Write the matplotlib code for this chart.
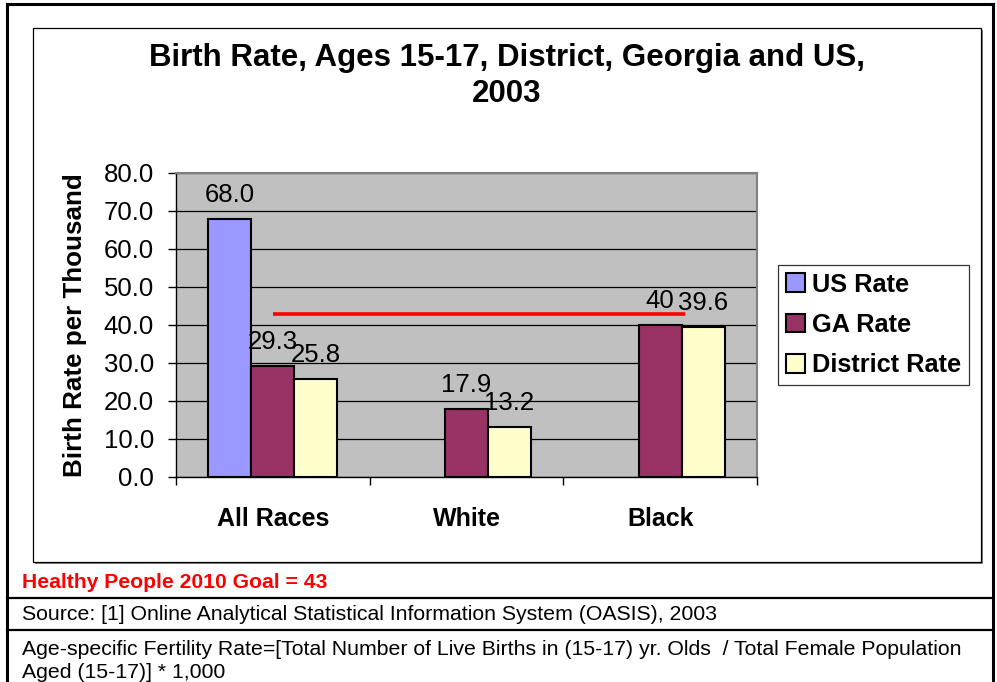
import matplotlib
matplotlib.use("Agg")
import matplotlib.pyplot as plt
import numpy as np
from matplotlib.patches import Rectangle, Patch
from matplotlib.lines import Line2D

plt.rcParams['font.family'] = ['Liberation Sans', 'DejaVu Sans']

# Birth rates per 1,000 females aged 15-17
categories = ['All Races', 'White', 'Black']
us_rate = [68.0, np.nan, np.nan]
ga_rate = [29.3, 17.9, 40.0]
district_rate = [25.8, 13.2, 39.6]
series_names = ['US Rate', 'GA Rate', 'District Rate']
goal = 43

W, H = 997, 682
fig = plt.figure(figsize=(W / 100, H / 100), dpi=100)


def fx(x):
    return x / W


def fy(y):
    return 1 - y / H


# outer frame and table lines
for xs, ys, lw in [((7, 7), (4, 682), 2.2), ((7, 993), (4, 4), 2.2),
                   ((993, 993), (4, 682), 2.2), ((7, 993), (598, 598), 1.6),
                   ((7, 993), (630, 630), 1.6)]:
    fig.add_artist(Line2D([fx(x) for x in xs], [fy(y) for y in ys],
                          color='black', lw=lw))

# chart area box with a small shadow
fig.add_artist(Rectangle((fx(35), fy(564)), fx(948), 534 / H,
                         facecolor='#808080', edgecolor='none', zorder=-2))
fig.add_artist(Rectangle((fx(33), fy(562)), fx(948), 534 / H,
                         facecolor='white', edgecolor='black', lw=0.9, zorder=-1))

fig.text(fx(507), fy(76), 'Birth Rate, Ages 15-17, District, Georgia and US,\n2003',
         ha='center', va='center', fontsize=22.5, fontweight='bold', linespacing=1.26)

ax = fig.add_axes([fx(176), fy(477), (757 - 176) / W, (477 - 173) / H])
ax.set_zorder(2)
ax.set_facecolor('#C0C0C0')

x = np.arange(len(categories))
bw = 1 / 4.5
colors = ['#9999FF', '#993366', '#FFFFCC']
label_fmt = {(1, 2): '{:.0f}'}
for i, (vals, c) in enumerate(zip([us_rate, ga_rate, district_rate], colors)):
    pos = x + (i - 1) * bw
    ax.bar(pos, vals, width=bw, color=c, edgecolor='black', lw=1.5, zorder=3)
    for j, (p, v) in enumerate(zip(pos, vals)):
        if np.isnan(v):
            continue
        txt = label_fmt.get((i, j), '{:.1f}').format(v)
        ax.annotate(txt, (p, v), xytext=(0, 17), textcoords='offset points',
                    ha='center', va='center', fontsize=18.5, zorder=5)

# Healthy People 2010 goal line
ax.plot([0, 2.13], [goal, goal], color='#FF0000', lw=2.6, zorder=4,
        solid_capstyle='butt')

ax.set_xlim(-0.5, 2.5)
ax.set_ylim(0, 80)
ax.set_yticks(np.arange(0, 81, 10))
ax.set_yticklabels([f'{v:.1f}' for v in np.arange(0, 81, 10)])
ax.yaxis.grid(True, color='black', lw=0.9, zorder=1)
ax.set_axisbelow(True)
ax.set_xticks([-0.5, 0.5, 1.5, 2.5])
ax.set_xticklabels([])
ax.set_xticks(x, minor=True)
ax.set_xticklabels(categories, minor=True, fontsize=18, fontweight='bold')
ax.tick_params(axis='x', which='major', length=6, width=1, direction='out')
ax.tick_params(axis='x', which='minor', length=0, pad=21.5)
ax.tick_params(axis='y', length=6, width=1, direction='out', labelsize=18.5, pad=10)
for s in ['top', 'right']:
    ax.spines[s].set_color('#808080')
    ax.spines[s].set_linewidth(1.5)
for s in ['left', 'bottom']:
    ax.spines[s].set_color('black')
    ax.spines[s].set_linewidth(1)

fig.text(fx(75), fy(325), 'Birth Rate per Thousand', rotation=90, ha='center',
         va='center', fontsize=18.7, fontweight='bold')

handles = [Patch(facecolor=c, edgecolor='black', lw=1.5) for c in colors]
leg = fig.legend(handles, series_names, loc='upper left',
                 bbox_to_anchor=(fx(778), fy(265)), frameon=True, fancybox=False,
                 edgecolor='black', prop={'weight': 'bold', 'size': 18.3},
                 handlelength=0.75, handleheight=0.75, handletextpad=0.28,
                 labelspacing=0.64, borderpad=0.3, borderaxespad=0)
leg.get_frame().set_linewidth(0.9)

fig.text(fx(22), fy(582), 'Healthy People 2010 Goal = 43', color='#FF0000',
         fontsize=15.2, fontweight='bold', va='center', ha='left')
fig.text(fx(22), fy(614), 'Source: [1] Online Analytical Statistical Information System (OASIS), 2003',
         fontsize=15.3, va='center', ha='left')
fig.text(fx(22), fy(661),
         'Age-specific Fertility Rate=[Total Number of Live Births in (15-17) yr. Olds  / Total Female Population\nAged (15-17)] * 1,000',
         fontsize=15.3, va='center', ha='left', linespacing=1.3)

fig.savefig('out.png', dpi=100)
